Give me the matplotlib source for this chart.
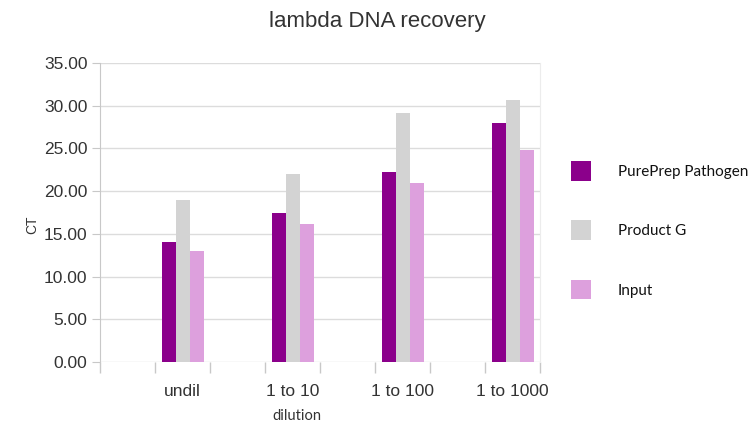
import matplotlib
matplotlib.use("Agg")
import matplotlib.pyplot as plt
import numpy as np

# Data
categories = ["", "undil", "", "1 to 10", "", "1 to 100", "", "1 to 1000"]
series_names = ["PurePrep Pathogen", "Product G", "Input"]
pureprep = [None, 14.0, None, 17.5, None, 22.2, None, 28.0]
product_g = [None, 19.0, None, 22.0, None, 29.2, None, 30.7]
input_vals = [None, 13.0, None, 16.2, None, 20.9, None, 24.8]
colors = ["#8b008b", "#d3d3d3", "#dda0dd"]
y_ticks = [0, 5, 10, 15, 20, 25, 30, 35]

fig = plt.figure(figsize=(7.54, 4.28), dpi=100)
ax = fig.add_axes([100/754, 1-362/428, 440/754, 299/428])

x = np.arange(len(categories))
w = 14/55
handles = []
for i, (vals, c, name) in enumerate(zip([pureprep, product_g, input_vals], colors, series_names)):
    xs = [xi + (i-1)*w for xi, v in zip(x, vals) if v is not None]
    vs = [v for v in vals if v is not None]
    h = ax.bar(xs, vs, width=w, color=c, label=name, zorder=3, linewidth=0)
    handles.append(h)

ax.set_xlim(-0.5, len(categories)-0.5)
ax.set_ylim(0, 35)
ax.set_yticks(y_ticks)
ax.set_yticklabels([f"{v:.2f}" for v in y_ticks], family="Liberation Sans", fontsize=12.5, color="#333333")
ax.set_xticks(x)
ax.set_xticklabels(categories, family="Liberation Sans", fontsize=12.5, color="#333333")
ax.tick_params(axis="x", length=0, pad=16)
ax.set_xticks(np.arange(-0.5, len(categories)), minor=True)
ax.tick_params(axis="x", which="minor", length=8, color="#c8c8c8", width=1)
ax.tick_params(axis="y", length=6, color="#c8c8c8", pad=3)

ax.grid(axis="y", color="#dcdcdc", linewidth=1, zorder=0)
for s in ["top", "bottom"]:
    ax.spines[s].set_visible(False)
ax.spines["left"].set_color("#c8c8c8")
ax.spines["right"].set_color("#ececec")

fig.text(377/754, 1-22/428, "lambda DNA recovery", ha="center", va="center",
         family="Liberation Sans", fontsize=16, color="#333333")
fig.text(32/754, 1-225/428, "CT", ha="center", va="center", rotation=90,
         family="Liberation Sans", fontsize=10, color="#333333")
fig.text(297/754, 1-416/428, "dilution", ha="center", va="center",
         family="Lato", fontsize=10.5, color="#333333")

leg = fig.legend(handles=handles, labels=series_names, loc="upper left",
                 bbox_to_anchor=(571/754, 1-161/428), frameon=False,
                 prop={"family": "Lato", "size": 11},
                 handlelength=1.3, handleheight=1.6, labelspacing=2.6,
                 handletextpad=1.75, borderpad=0, borderaxespad=0)
for t in leg.get_texts():
    t.set_color("#111111")

fig.savefig("out.png", dpi=100)
